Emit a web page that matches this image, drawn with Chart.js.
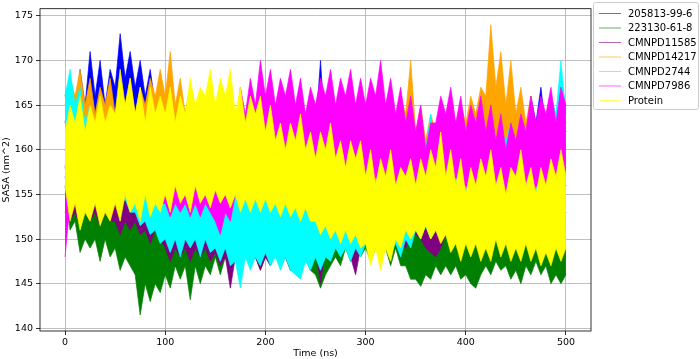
<!DOCTYPE html>
<html>
<head>
<meta charset="utf-8">
<script src="https://cdn.jsdelivr.net/npm/chart.js@4/dist/chart.umd.min.js"></script>
<style>
  body { margin: 0; background: #fff; }
  #wrap { width: 700px; height: 359px; }
</style>
</head>
<body>
<div id="wrap"><canvas id="chart-sasa"></canvas></div>
<script>
// Sampling grid (ns) and axis ticks
const timeNs = Array.from({ length: 101 }, (_, i) => i * 5);
const xTicks = [0, 100, 200, 300, 400, 500];
const yTicks = [140, 145, 150, 155, 160, 165, 170, 175];

// SASA (nm^2): the traces are too dense to follow one by one, so each system is
// read off the picture as its upper and lower spike envelope every 5 ns
const upper205813 = [
  163,167,164,169,165,171,166,170,165,169,
  167,173,168,171,167,170,166,169,165,168,
  164,167,163,166,164,167,162,166,163,165,
  162,165,161,166,162,165,161,164,162,165,
  161,164,162,165,161,164,162,165,161,164,
  162,170,161,165,162,164,161,165,162,166,
  162,166,161,164,162,165,161,164,162,165,
  161,164,160,163,161,164,160,163,161,164,
  160,164,161,165,161,164,160,163,161,165,
  161,165,162,166,163,167,162,165,161,164,
  162];
const lower205813 = [
  157,154,156,153,156,154,157,153,156,154,
  157,154,156,153,155,152,155,153,156,153,
  155,152,154,151,155,152,154,151,155,152,
  154,151,153,150,154,151,153,151,154,152,
  154,151,153,150,154,151,152,150,153,151,
  153,150,154,151,153,150,153,151,154,151,
  153,151,154,151,153,150,154,152,153,151,
  154,151,153,150,154,152,155,152,154,151,
  154,151,153,150,154,151,153,150,154,152,
  154,151,155,152,154,151,153,150,154,152,
  153];
const upper223130 = [
  166,168,163,160,158,160,157,159,157,160,
  157,159,156,158,155,157,154,157,155,158,
  156,158,155,157,154,157,155,158,156,158,
  156,158,155,157,156,158,156,158,155,157,
  156,158,155,157,156,158,155,157,156,158,
  155,157,156,158,156,158,157,159,156,158,
  157,159,156,158,157,159,156,158,155,157,
  154,156,155,157,155,157,156,158,155,157,
  156,158,155,157,156,158,155,157,156,158,
  155,157,156,158,155,157,156,158,155,157,
  156];
const lower223130 = [
  156,151,152,148.5,150,149,150,147.5,150,148,
  149,146.5,148,147,146,141.5,145,143,145,144,
  146,144.5,147,145.5,147,143.2,147,145,147,146,
  148,146,148,146.5,148,146,148.5,147,148,146.5,
  148,147,149,147,148,146.5,148,147,148,146.5,
  146,144.5,146,147,148,147,149,147.5,149,148,
  149,147.5,149,148,149,147,149,147,147,145.5,
  145.5,144.7,146,145.5,147,146,147,146,147,145.5,
  146,145,144.5,146,147,146,147.5,146.5,147,145.5,
  146.5,145,147,146,147.5,146,147,145,146,145,
  146];
const upper11585 = [
  160,158,161,159,160,158,161,159,160,158,
  160,158,159,157,160,158,159,157,160,158,
  159,157,160,158,159,157,160,158,159,157,
  159,157,158,156,159,157,158,156,159,157,
  158,156,159,157,158,156,159,157,158,156,
  158,156,159,157,158,156,159,157,158,156,
  158,156,159,157,158,156,159,157,158,156,
  158,156,157,155,158,156,159,157,158,156,
  159,157,160,158,159,157,160,158,159,157,
  159,157,160,158,159,157,160,158,159,157,
  158];
const lower11585 = [
  153,152,153,151.5,153,152,153,151.5,153,152,
  152,150.5,152,151,152,150.5,151,149.5,151,150,
  149,147.5,149,148,149,147.5,149,148,149,147.5,
  148.5,147,148,144.5,148,147,148.5,147,148,146.5,
  148,147,148.5,147,148,146.5,148,147,148,146.5,
  149,145,149,148,149.5,148.5,149.5,148,146,149,
  150.5,149.5,151,150,151,150,150.5,149.5,149,150.5,
  150.5,150,149,148.5,148,149,150.5,150,151,150.5,
  151,150.5,151.5,150.5,151,150.5,151.5,150.5,151,150.5,
  150.5,150,149.5,150,150.5,151,151,150.5,151,150.5,
  151];
const upper14217 = [
  165,168,166,169,165,168,164,167,165,168,
  164,167,165,168,164,167,165,168,166,169,
  166,171,165,168,164,167,163,166,164,167,
  162,165,161,164,162,165,161,164,162,165,
  161,164,162,165,161,164,160,163,161,164,
  162,165,161,164,162,166,161,164,162,165,
  162,166,163,165,162,166,163,166,164,170,
  162,165,161,164,162,165,161,164,162,165,
  163,166,164,167,166,174,167,171,165,170,
  164,167,163,166,162,165,162,165,163,166,
  163];
const lower14217 = [
  158,156,157,155,157,155,158,156,157,155,
  157,155,157,155,156,154,156,154,157,155,
  156,154,155,153,155,153,154,152,155,153,
  154,152,155,153,154,152,155,153,154,152,
  154,152,155,153,154,152,155,153,154,152,
  154,152,155,153,154,152,155,153,154,152,
  155,153,156,154,155,153,156,154,155,153,
  155,153,156,154,155,153,156,154,155,153,
  156,154,157,155,158,156,158,156,157,155,
  156,154,155,153,155,153,156,154,155,153,
  155];
const upper2744 = [
  166,169,165,167,163,165,162,164,161,163,
  160,162,159,161,159,162,158,161,159,161,
  158,160,157,159,158,160,157,159,158,160,
  157,159,157,159,156,158,157,159,157,159,
  157,159,156,158,157,159,156,158,157,159,
  156,158,155,157,156,158,155,157,156,158,
  155,157,156,158,155,157,156,158,156,158,
  158,161,160,164,159,162,160,164,159,162,
  160,163,159,162,160,163,160,162,161,163,
  160,163,161,164,162,165,162,166,164,170,
  164];
const lower2744 = [
  158,156,157,155.5,155,154,155,154,155,154,
  155,153.5,154.5,153,153,151.5,152,150.5,151,149.5,
  150,148.5,150,148,150,149,150,148,150,148.5,
  149,147.5,149,147,147.5,144.5,148,146.5,148,147,
  148.5,147,148,146.5,148,146.5,146,145.5,147.5,146.5,
  148,146.5,148,147.5,149,148,149,147.5,149,148,
  149.5,148,150,148.5,150,148.5,149.5,148,150,149,
  151,150,151.5,150,151,150,152,150.5,152,150.5,
  152,151,152,150.5,152,151,152.5,151,153,151.5,
  153,151.5,153,152,153.5,152,153,151,153,152,
  153];
const upper7986 = [
  158,162,160,164,161,165,161,164,160,165,
  161,164,160,163,161,165,160,164,161,163,
  159,162,158,161,159,162,158,161,159,162,
  158,161,159,163,162,167,164,168,165,170,
  166,169,165,168,166,169,165,168,164,167,
  165,168,166,169,165,168,166,169,165,168,
  165,168,166,170,165,168,164,167,163,166,
  162,165,160,163,163,166,164,167,163,166,
  162,165,163,166,162,165,161,164,160,163,
  161,164,162,166,163,166,164,167,163,167,
  165];
const lower7986 = [
  148,154,155,153.5,155,154,155.5,154,155,153.5,
  155,153.5,155,154,155.5,154,155,153.5,155,154,
  154,152.5,154,153,154,152.5,154,152.5,154,153,
  152,150.5,153,152,155,154,156,155,157,155.5,
  157,156,157.5,156,157,155.5,157,156,157,155.5,
  157,156,157.5,156,157,156,157,155.5,157,156,
  157,155.5,157,156,156,154.5,155,153.5,155,153.5,
  155,154,155,153.5,156,154.5,157,155.5,157,155.5,
  156,154.5,156,155,156,154.5,156,155,155,153.5,
  155,153.5,156,154.5,156,155,156,154.5,156,155,
  156];
const upperProtein = [
  162,165,163,166,162,165,163,166,163,165,
  164,169,165,168,164,167,163,167,164,166,
  164,167,163,166,164,168,165,167,166,169,
  165,168,166,169,164,167,163,166,164,166,
  162,165,161,163,160,163,161,164,160,162,
  159,162,160,163,159,161,158,161,159,161,
  157,160,156,159,157,160,156,158,157,159,
  156,159,157,160,158,162,157,160,156,159,
  155,158,156,159,157,160,156,158,155,158,
  157,160,156,158,155,158,156,159,157,160,
  157];
const lowerProtein = [
  156,152,154,151,153,152,154,151.5,153,152,
  154,152,155,153,154,152,155,152.5,154,153,
  155,153,156,154,155,153,156,154,155,153.5,
  155.5,154,155,153.5,155,153,154.5,153,154.5,153,
  154.5,153,154,152.5,154,152.5,153.5,152,153.5,152,
  152,150.5,151.5,150,151,149.5,151,149.5,150.5,149,
  149.5,147,149,146.5,149,147.5,150,149,151,150,
  151,150,151.5,150,151,149.5,150.5,148.5,149.5,147.5,
  149.5,148,149.5,147.5,149,147.5,150,148,149.5,147.5,
  149,147.5,149.5,147.5,149,147,148.5,147,149,147.5,
  149];

const seriesNames = ['205813-99-6', '223130-61-8', 'CMNPD11585', 'CMNPD14217', 'CMNPD2744', 'CMNPD7986', 'Protein'];
const seriesUpper = [upper205813, upper223130, upper11585, upper14217, upper2744, upper7986, upperProtein];
const seriesLower = [lower205813, lower223130, lower11585, lower14217, lower2744, lower7986, lowerProtein];
const seriesColors = ['#0000ff', '#008000', '#800080', '#ffa500', '#00ffff', '#ff00ff', '#ffff00'];

const FONT = 'DejaVu Sans';

// black box round the plot + legend box outside on the right (like matplotlib)
const framePlugin = {
  id: 'frame',
  afterDatasetsDraw(chart) {
    const { ctx, chartArea: a } = chart;
    ctx.save();
    ctx.strokeStyle = '#000';
    ctx.lineWidth = 0.8;
    ctx.strokeRect(a.left, a.top, a.right - a.left, a.bottom - a.top);
    ctx.restore();
  },
  afterDraw(chart) {
    const ctx = chart.ctx;
    ctx.save();
    ctx.beginPath();
    ctx.roundRect(593.5, 2.5, 105, 107, 2);
    ctx.fillStyle = 'rgba(255,255,255,0.8)';
    ctx.fill();
    ctx.strokeStyle = '#cccccc';
    ctx.lineWidth = 1;
    ctx.stroke();
    ctx.font = '10px "' + FONT + '"';
    ctx.textBaseline = 'middle';
    seriesNames.forEach((name, i) => {
      const y = 13.5 + i * 14.5;
      ctx.globalAlpha = 0.6;
      ctx.strokeStyle = seriesColors[i];
      ctx.beginPath();
      ctx.moveTo(599, y);
      ctx.lineTo(621, y);
      ctx.stroke();
      ctx.globalAlpha = 1;
      ctx.fillStyle = '#000';
      ctx.fillText(name, 628, y + 0.5);
    });
    ctx.restore();
  }
};

!function(){
  const ctx = document.getElementById('chart-sasa');

  // two datasets per system: upper edge filled down to the lower edge
  const datasets = [];
  seriesNames.forEach((name, i) => {
    const order = seriesNames.length - i; // first system drawn first, Protein on top
    datasets.push({
      label: name,
      data: timeNs.map((t, k) => ({ x: t, y: seriesUpper[i][k] })),
      borderColor: seriesColors[i],
      backgroundColor: seriesColors[i],
      borderWidth: 0.7,
      pointRadius: 0,
      tension: 0,
      fill: '+1',
      order
    });
    datasets.push({
      label: name + ' (low)',
      data: timeNs.map((t, k) => ({ x: t, y: seriesLower[i][k] })),
      borderColor: seriesColors[i],
      backgroundColor: seriesColors[i],
      borderWidth: 0.7,
      pointRadius: 0,
      tension: 0,
      fill: false,
      order
    });
  });

  new Chart(ctx, {
    type: 'line',
    data: { datasets },
    options: {
      responsive: true,
      maintainAspectRatio: false,
      animation: false,
      layout: { padding: { left: 0, top: 1, right: 109, bottom: 0 } },
      plugins: { legend: { display: false }, tooltip: { enabled: false } },
      scales: {
        x: {
          type: 'linear',
          min: -25,
          max: 525,
          afterBuildTicks: axis => { axis.ticks = xTicks.map(v => ({ value: v })); },
          afterFit: scale => { scale.height = 28; },
          ticks: { color: '#000', font: { family: FONT, size: 9.5 }, padding: 2, autoSkip: false, maxRotation: 0 },
          grid: { color: '#b0b0b0', lineWidth: 0.8, tickColor: '#000', tickLength: 4 },
          border: { display: false },
          title: { display: true, text: 'Time (ns)', color: '#000', font: { family: FONT, size: 9.5 }, padding: { top: 0, bottom: 0 } }
        },
        y: {
          min: 139.7,
          max: 175.8,
          afterBuildTicks: axis => { axis.ticks = yTicks.map(v => ({ value: v })); },
          afterFit: scale => { scale.width = 40; },
          ticks: { color: '#000', font: { family: FONT, size: 9.5 }, padding: 3, autoSkip: false },
          grid: { color: '#b0b0b0', lineWidth: 0.8, tickColor: '#000', tickLength: 4 },
          border: { display: false },
          title: { display: true, text: 'SASA (nm^2)', color: '#000', font: { family: FONT, size: 9.5 }, padding: { top: 1, bottom: 0 } }
        }
      }
    },
    plugins: [framePlugin]
  });
}();
</script>
</body>
</html>
